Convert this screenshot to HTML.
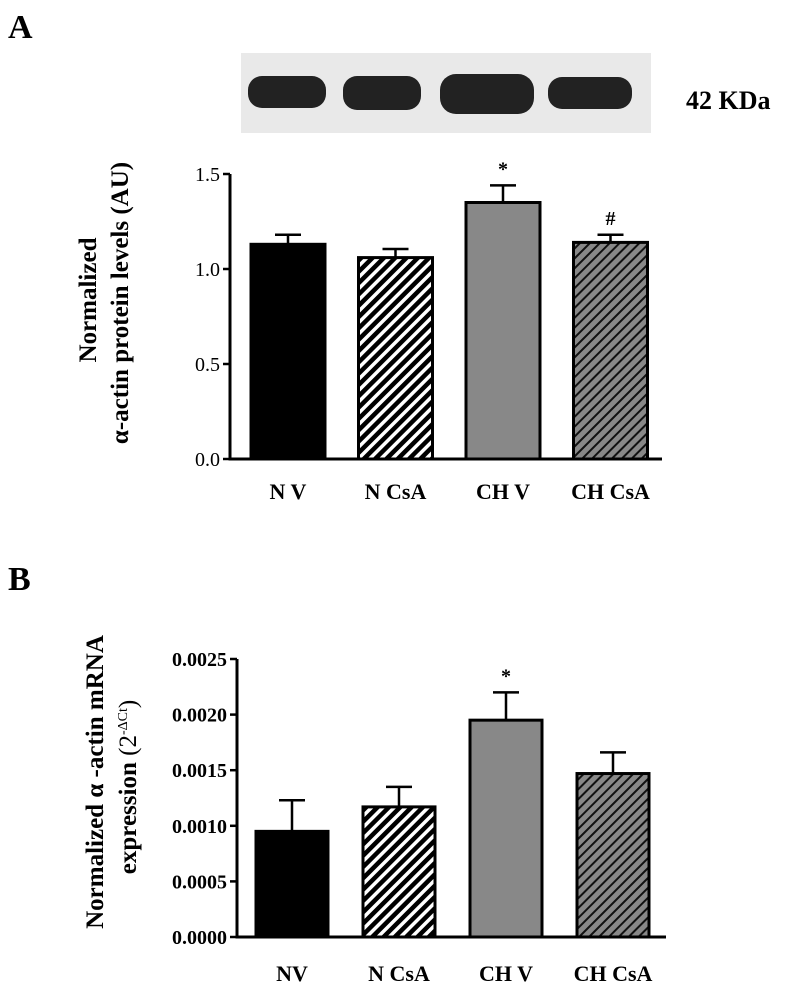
<!DOCTYPE html>
<html><head><meta charset="utf-8"><style>
html,body{margin:0;padding:0;background:#fff;}
svg text{font-family:"Liberation Serif",serif;}
</style></head><body>
<svg width="800" height="989" viewBox="0 0 800 989" xmlns="http://www.w3.org/2000/svg">
<defs>
<pattern id="hatchW" patternUnits="userSpaceOnUse" width="8" height="8" patternTransform="rotate(45)">
<rect width="8" height="8" fill="#000"/><rect width="3.5" height="8" fill="#fff"/>
</pattern>
<pattern id="hatchG" patternUnits="userSpaceOnUse" width="7" height="7" patternTransform="rotate(45)">
<rect width="7" height="7" fill="#888"/><rect width="2" height="7" fill="#111"/>
</pattern>
</defs>
<text x="8" y="38" font-size="34" font-weight="bold">A</text>
<text x="8" y="590" font-size="34" font-weight="bold">B</text>
<g>
<rect x="241" y="53" width="410" height="80" fill="#e9e9e9"/>
<rect x="248" y="76" width="78" height="32" rx="14" fill="#222"/>
<rect x="343" y="76" width="78" height="34" rx="14" fill="#222"/>
<rect x="440" y="74" width="94" height="40" rx="16" fill="#222"/>
<rect x="548" y="77" width="84" height="32" rx="14" fill="#222"/>
</g>
<text x="686" y="109" font-size="26" font-weight="bold">42 KDa</text>
<g id="chartA"></g>
<g id="chartB"></g>
<text transform="translate(96,300) rotate(-90)" text-anchor="middle" font-size="25" font-weight="bold">Normalized</text>
<text transform="translate(128,303) rotate(-90)" text-anchor="middle" font-size="25" font-weight="bold">α-actin protein levels (AU)</text>
<text transform="translate(103,782) rotate(-90)" text-anchor="middle" font-size="25" font-weight="bold">Normalized α -actin mRNA</text>
<text transform="translate(136,787) rotate(-90)" text-anchor="middle" font-size="25" font-weight="bold">expression <tspan font-weight="normal">(2</tspan><tspan font-size="14" dy="-9" font-weight="normal">-ΔCt</tspan><tspan dy="9" font-weight="normal">)</tspan></text>
</svg>
<script>
const categoriesA = ["N V","N CsA","CH V","CH CsA"];
const valuesA = [1.13,1.06,1.35,1.14];
const errorsA = [0.05,0.045,0.09,0.04];
const ticksA = [0,0.5,1.0,1.5];
const tickLabelsA = ["0.0","0.5","1.0","1.5"];
const marksA = ["","","*","#"];
const categoriesB = ["NV","N CsA","CH V","CH CsA"];
const valuesB = [0.00095,0.00117,0.00195,0.00147];
const errorsB = [0.00028,0.00018,0.00025,0.00019];
const ticksB = [0,0.0005,0.0010,0.0015,0.0020,0.0025];
const tickLabelsB = ["0.0000","0.0005","0.0010","0.0015","0.0020","0.0025"];
const marksB = ["","","*",""];
const fills = ["#000","url(#hatchW)","#888","url(#hatchG)"];
const NS="http://www.w3.org/2000/svg";
function mk(parent,tag,attrs,txt){const e=document.createElementNS(NS,tag);for(const k in attrs)e.setAttribute(k,attrs[k]);if(txt!==undefined)e.textContent=txt;parent.appendChild(e);return e;}
function draw(g,cfg){
  const y=v=>cfg.y0-(v-0)/cfg.ymax*(cfg.y0-cfg.y1);
  const bx=i=>cfg.barX0+i*cfg.step;
  const axis=mk(g,'path',{d:`M${cfg.ax} ${y(cfg.ymax)} V${cfg.y0} H${cfg.axEnd}`,stroke:'#000','stroke-width':3,fill:'none'});
  
  
  cfg.ticks.forEach((t,i)=>{
    const l=mk(g,'line',{x1:cfg.ax-7,x2:cfg.ax,y1:y(t),y2:y(t),stroke:'#000','stroke-width':2.5});
    
    
    const tx=mk(g,'text',{x:cfg.ax-10,y:y(t)+7,'font-size':20,'text-anchor':'end','font-weight':cfg.tickBold?'bold':'normal'},cfg.tickLabels[i]);
    
    
  });
  cfg.values.forEach((v,i)=>{
    const x=bx(i),cx=x+cfg.bw/2;
    const e=mk(g,'path',{d:`M${cx} ${y(v)} V${y(v+cfg.errors[i])} M${cx-13} ${y(v+cfg.errors[i])} H${cx+13}`,stroke:'#000','stroke-width':2.5});
    
    
    const r=mk(g,'rect',{x:x,y:y(v),width:cfg.bw,height:cfg.y0-y(v),fill:fills[i],stroke:'#000','stroke-width':3});
    
    
    const lb=mk(g,'text',{x:cx,y:cfg.labelY,'font-size':22,'font-weight':'bold','text-anchor':'middle'},cfg.cats[i]);
    
    
    if(cfg.marks[i]){
      const m=mk(g,'text',{x:cx,y:y(v+cfg.errors[i])-10,'font-size':20,'font-weight':'bold','text-anchor':'middle'},cfg.marks[i]);
      
      
    }
  });
}
draw(document.getElementById('chartA'),{y0:459,y1:174,ymax:1.5,ax:230,axEnd:662,barX0:251,step:107.5,bw:74,values:valuesA,errors:errorsA,ticks:ticksA,tickLabels:tickLabelsA,cats:categoriesA,marks:marksA,labelY:499,tickBold:false});
draw(document.getElementById('chartB'),{y0:937,y1:659,ymax:0.0025,ax:237,axEnd:666,barX0:256,step:107,bw:72,values:valuesB,errors:errorsB,ticks:ticksB,tickLabels:tickLabelsB,cats:categoriesB,marks:marksB,labelY:981,tickBold:true});
</script>
</body></html>
